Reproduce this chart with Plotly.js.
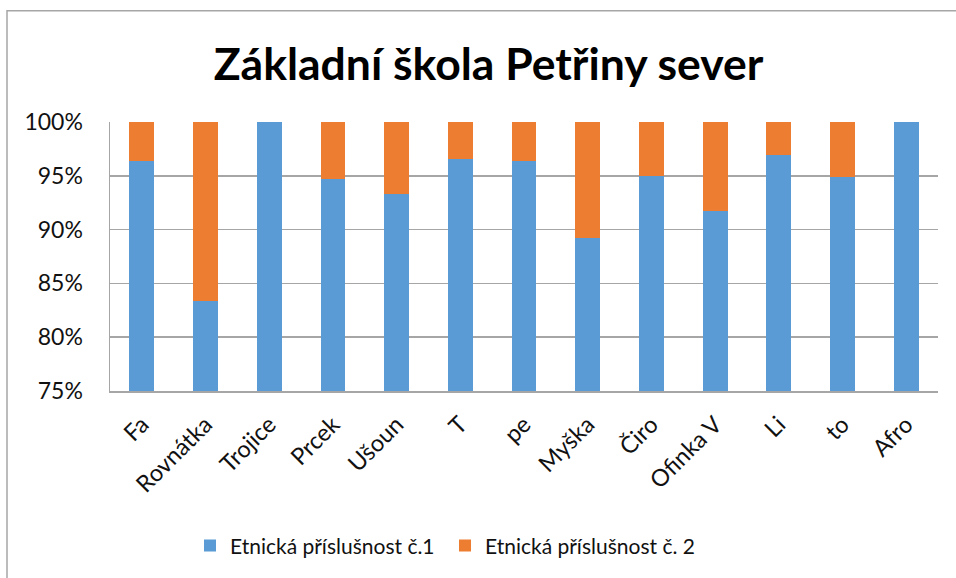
<!DOCTYPE html>
<html>
<head>
<meta charset="utf-8">
<script src="https://cdn.plot.ly/plotly-3.0.1.min.js"></script>
<style>
html,body{margin:0;padding:0;background:#fff;overflow:hidden;}
#chart{width:956px;height:578px;}
</style>
</head>
<body>
<div id="chart"></div>
<script>
const categories = ["Fa", "Rovnátka", "Trojice", "Prcek", "Ušoun", "T", "pe", "Myška", "Čiro", "Ofinka V", "Li", "to", "Afro"];
const ethnic1 = [96.37, 83.33, 100, 94.74, 93.32, 96.59, 96.37, 89.21, 95.0, 91.7, 96.98, 94.93, 100];
const ethnic2 = [3.63, 16.67, 0, 5.26, 6.68, 3.41, 3.63, 10.79, 5.0, 8.3, 3.02, 5.07, 0];
const seriesNames = ["Etnická příslušnost č.1", "Etnická příslušnost č. 2"];
const yTicks = [75, 80, 85, 90, 95, 100];
const yTickLabels = ["75%", "80%", "85%", "90%", "95%", "100%"];

const font = "Lato, 'Open Sans', sans-serif";

const traces = [
  {type: "bar", name: seriesNames[0], x: categories, y: ethnic1,
   marker: {color: "#5B9BD5", line: {width: 0}}, hoverinfo: "x+y"},
  {type: "bar", name: seriesNames[1], x: categories, y: ethnic2,
   marker: {color: "#ED7D31", line: {width: 0}}, hoverinfo: "x+y"}
];

const L = 110, R = 938, T = 122, B = 393;
const W = 956, H = 578;
const pw = R - L, ph = B - T;

const layout = {
  width: W, height: H,
  margin: {l: L, r: W - R, t: T, b: H - B, pad: 0},
  paper_bgcolor: "#fff", plot_bgcolor: "#fff",
  barmode: "stack",
  bargap: 0.61,
  font: {family: font, size: 20, color: "#111"},
  title: {text: "<b>Základní škola Petřiny sever</b>", font: {family: font, size: 44.5, color: "#000"},
          xref: "container", x: 0.511, xanchor: "center", yref: "container", y: 1 - 64/578, yanchor: "middle"},
  xaxis: {type: "category", tickangle: -45, showgrid: false, showline: true, linecolor: "#a6a6a6", linewidth: 1.5,
          ticks: "", tickfont: {family: font, size: 23.5, color: "#111"}, ticklabelstandoff: 9},
  yaxis: {range: [75, 100], tickvals: yTicks, ticktext: yTickLabels, showgrid: true, gridcolor: "#a6a6a6", gridwidth: 1.5,
          showline: true, linecolor: "#a6a6a6", linewidth: 1.5, zeroline: false, ticks: "",
          tickfont: {family: font, size: 23, color: "#111"}, ticklabelstandoff: 21},
  showlegend: true,
  legend: {orientation: "h", x: (190 - L) / pw, xanchor: "left", y: (B - 549) / ph, yanchor: "middle",
           font: {family: font, size: 21, color: "#111"}, traceorder: "normal", itemwidth: 30,
           entrywidth: 210, entrywidthmode: "pixels"},
  shapes: [
    {type: "rect", xref: "paper", yref: "paper", x0: (7 - L) / pw, x1: (1000 - L) / pw, y0: (B - 700) / ph, y1: (B - 10) / ph,
     line: {color: "#a6a6a6", width: 1.5}, fillcolor: "rgba(0,0,0,0)", layer: "below"}
  ]
};

Plotly.newPlot("chart", traces, layout, {displayModeBar: false, staticPlot: true});
</script>
</body>
</html>
